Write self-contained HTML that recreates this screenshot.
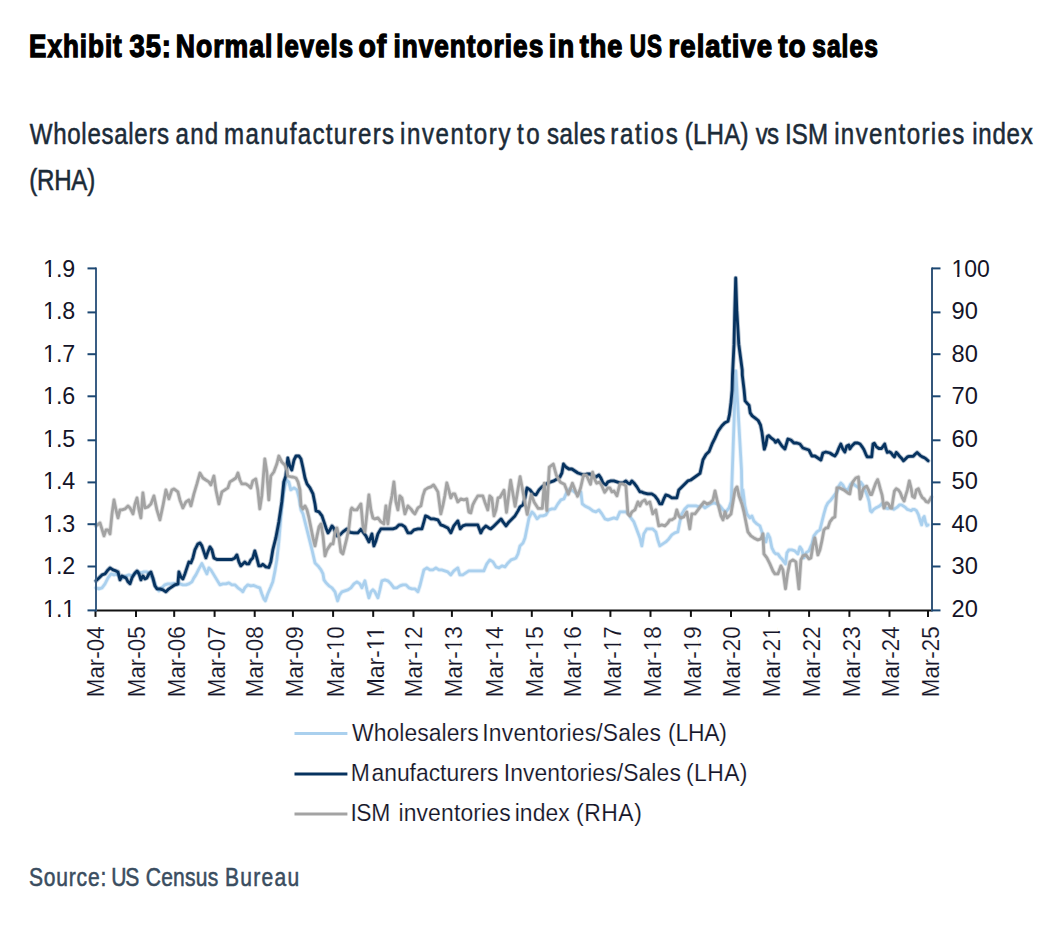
<!DOCTYPE html>
<html><head><meta charset="utf-8"><title>Exhibit 35</title>
<style>html,body{margin:0;padding:0;background:#fff;}svg{display:block;}</style>
</head><body>
<svg width="1054" height="926" viewBox="0 0 1054 926">
<rect x="0" y="0" width="1054" height="926" fill="#fff"/>
<g font-family='"Liberation Sans", sans-serif' font-weight="bold" font-size="30.9" fill="#000" stroke="#000" stroke-width="1.3" vector-effect="non-scaling-stroke">
<text transform="scale(0.8415,1.0000)" x="34.60" y="56.80" letter-spacing="1.188">Exhibit</text>
<text transform="scale(0.8859,1.0000)" x="146.09" y="56.80" letter-spacing="1.129">35:</text>
<text transform="scale(0.8602,1.0000)" x="204.45" y="56.80" letter-spacing="1.162">Normal</text>
<text transform="scale(0.8343,1.0000)" x="331.24" y="56.80" letter-spacing="1.199">levels</text>
<text transform="scale(0.9211,1.0000)" x="389.14" y="56.80" letter-spacing="1.086">of</text>
<text transform="scale(0.8483,1.0000)" x="463.79" y="56.80" letter-spacing="1.179">inventories</text>
<text transform="scale(0.8854,1.0000)" x="619.88" y="56.80" letter-spacing="1.129">in</text>
<text transform="scale(0.8795,1.0000)" x="659.12" y="56.80" letter-spacing="1.137">the</text>
<text transform="scale(0.7276,1.0000)" x="865.63" y="56.80" letter-spacing="1.374">US</text>
<text transform="scale(0.8914,1.0000)" x="750.06" y="56.80" letter-spacing="1.122">relative</text>
<text transform="scale(0.9067,1.0000)" x="858.27" y="56.80" letter-spacing="1.103">to</text>
<text transform="scale(0.7964,1.0000)" x="1019.90" y="56.80" letter-spacing="1.256">sales</text>
</g>
<g font-family='"Liberation Sans", sans-serif' font-weight="normal" font-size="29.4" fill="#1c2b38" stroke="#1c2b38" stroke-width="0.55" vector-effect="non-scaling-stroke">
<text transform="scale(0.8200,1.0000)" x="36.30" y="143.80" letter-spacing="0.831">Wholesalers</text>
<text transform="scale(0.8200,1.0000)" x="214.09" y="143.80" letter-spacing="1.530">and</text>
<text transform="scale(0.8200,1.0000)" x="273.26" y="143.80" letter-spacing="1.624">manufacturers</text>
<text transform="scale(0.8200,1.0000)" x="487.76" y="143.80" letter-spacing="1.953">inventory</text>
<text transform="scale(0.8200,1.0000)" x="630.50" y="143.80" letter-spacing="3.201">to</text>
<text transform="scale(0.8200,1.0000)" x="667.08" y="143.80" letter-spacing="0.646">sales</text>
<text transform="scale(0.8200,1.0000)" x="744.11" y="143.80" letter-spacing="2.118">ratios</text>
<text transform="scale(0.8200,1.0000)" x="835.10" y="143.80" letter-spacing="0.215">(LHA)</text>
<text transform="scale(0.8200,1.0000)" x="921.58" y="143.80" letter-spacing="-0.850">vs</text>
<text transform="scale(0.8200,1.0000)" x="957.26" y="143.80" letter-spacing="0.180">ISM</text>
<text transform="scale(0.8200,1.0000)" x="1017.27" y="143.80" letter-spacing="1.668">inventories</text>
<text transform="scale(0.8200,1.0000)" x="1185.69" y="143.80" letter-spacing="0.885">index</text>
</g>
<g font-family='"Liberation Sans", sans-serif' font-weight="normal" font-size="29.4" fill="#1c2b38" stroke="#1c2b38" stroke-width="0.55" vector-effect="non-scaling-stroke">
<text transform="scale(0.8200,1.0000)" x="35.59" y="189.60" letter-spacing="-0.276">(RHA)</text>
</g>
<g font-family='"Liberation Sans", sans-serif' font-weight="normal" font-size="26.3" fill="#3a4d60" stroke="#3a4d60" stroke-width="0.55" vector-effect="non-scaling-stroke">
<text transform="scale(0.8000,1.0000)" x="36.15" y="885.80" letter-spacing="1.024">Source:</text>
<text transform="scale(0.8000,1.0000)" x="139.19" y="885.80" letter-spacing="-1.608">US</text>
<text transform="scale(0.8000,1.0000)" x="182.13" y="885.80" letter-spacing="0.310">Census</text>
<text transform="scale(0.8000,1.0000)" x="281.19" y="885.80" letter-spacing="1.606">Bureau</text>
</g>
<g fill="none" stroke-linejoin="round" stroke-linecap="round">
<path d="M96.0 587.8 L99.0 588.8 L102.0 587.8 L105.0 583.8 L108.0 577.9 L111.0 573.9 L114.0 574.9 L117.0 573.9 L120.0 576.9 L123.0 577.9 L126.0 575.9 L129.0 574.9 L132.0 575.9 L135.0 573.9 L138.0 571.9 L140.9 572.9 L143.9 571.9 L146.9 571.9 L149.9 573.9 L152.9 578.9 L155.9 586.8 L158.9 590.8 L161.9 587.8 L164.9 584.8 L167.9 583.8 L170.9 583.8 L173.9 583.4 L176.9 584.8 L179.9 583.8 L182.9 584.8 L185.9 584.8 L188.9 583.8 L191.9 581.8 L193.9 577.9 L195.9 574.9 L198.9 568.9 L201.9 563.5 L204.9 569.9 L206.9 573.9 L208.9 567.9 L210.9 569.9 L213.9 574.9 L216.9 579.9 L219.9 584.8 L222.9 583.8 L225.9 583.8 L228.9 582.8 L231.9 584.8 L234.9 584.8 L237.9 587.8 L240.8 589.8 L242.8 591.8 L244.8 587.8 L247.8 584.8 L250.8 585.8 L253.8 585.4 L256.8 586.8 L259.8 587.8 L261.8 593.8 L263.8 598.8 L265.4 600.8 L267.8 593.8 L270.8 586.8 L272.8 581.8 L274.8 571.9 L276.8 559.9 L278.8 541.9 L280.8 517.9 L282.8 497.9 L284.8 485.9 L286.8 480.0 L288.8 481.9 L290.8 489.9 L294.0 487.9 L297.0 489.9 L299.0 497.9 L301.0 509.9 L303.0 513.9 L306.0 525.9 L309.0 537.9 L312.0 549.9 L315.0 562.9 L318.0 565.9 L321.0 569.9 L323.0 573.9 L324.0 579.9 L326.0 582.8 L329.0 585.8 L332.0 587.8 L335.0 591.8 L337.6 600.8 L339.6 594.8 L341.9 591.8 L344.9 590.8 L347.9 589.8 L350.9 587.8 L353.9 583.8 L356.9 581.8 L359.9 583.8 L361.9 587.8 L364.9 580.8 L366.9 589.8 L368.9 597.8 L370.9 591.8 L372.9 589.8 L374.9 591.8 L377.9 597.8 L379.9 589.8 L381.9 580.8 L384.9 579.9 L387.9 580.8 L390.9 583.8 L393.9 587.8 L396.9 587.8 L399.9 585.8 L402.9 584.8 L405.9 584.8 L408.9 587.8 L411.9 588.8 L414.9 588.8 L417.9 591.8 L419.9 585.8 L421.9 577.9 L423.9 569.9 L426.9 567.9 L429.9 569.9 L432.9 569.9 L435.9 567.9 L438.9 569.9 L441.8 569.9 L444.8 570.9 L447.8 571.9 L450.8 574.9 L453.8 570.9 L457.8 567.9 L459.8 574.9 L462.8 574.9 L465.8 572.9 L468.8 570.9 L472.8 570.9 L476.8 570.9 L480.8 570.9 L483.8 570.9 L486.8 563.9 L489.8 559.9 L493.0 561.9 L496.0 566.9 L499.0 567.9 L502.0 565.9 L505.0 566.9 L508.0 562.9 L511.0 559.9 L514.0 558.9 L516.0 557.9 L518.0 553.9 L520.0 545.9 L523.0 542.9 L525.0 537.9 L527.0 527.9 L529.0 517.9 L532.0 511.9 L534.0 513.9 L537.0 518.9 L540.0 515.9 L542.9 515.9 L545.9 514.9 L548.9 509.9 L551.9 508.9 L554.9 508.9 L557.9 503.9 L560.9 499.9 L563.9 498.9 L566.9 491.9 L569.9 488.9 L572.9 490.9 L575.9 492.9 L578.9 493.9 L580.9 491.9 L582.3 503.9 L584.9 505.9 L588.9 507.9 L592.9 510.9 L595.9 511.9 L598.9 509.9 L601.9 513.9 L604.9 518.9 L607.9 519.9 L610.9 518.9 L613.9 517.9 L616.9 518.9 L619.9 511.9 L622.9 511.9 L625.9 511.9 L628.9 513.9 L630.9 517.9 L633.9 521.9 L636.9 529.9 L639.9 537.9 L641.8 545.9 L643.8 533.9 L646.8 528.9 L649.8 528.9 L652.8 528.9 L655.8 531.9 L657.8 539.9 L659.8 545.9 L662.8 543.9 L665.8 541.9 L668.8 538.9 L671.8 534.9 L674.8 532.9 L677.8 531.9 L679.8 521.9 L681.8 513.9 L684.8 508.9 L687.8 505.9 L690.8 505.9 L694.0 505.9 L696.0 505.9 L699.0 506.9 L702.0 504.9 L705.0 507.9 L708.0 505.9 L711.0 503.9 L714.0 502.9 L717.0 503.9 L720.0 505.9 L723.0 509.9 L726.0 511.9 L729.0 507.9 L731.0 501.9 L731.3 500.0 L735.8 371.0 L741.5 470.0 L742.0 500.0 L742.9 489.9 L744.9 505.9 L746.9 513.9 L749.9 517.9 L751.9 515.9 L753.9 520.9 L756.9 523.9 L759.9 525.9 L761.9 531.9 L763.9 537.9 L765.9 541.9 L767.9 533.9 L769.9 537.9 L771.9 547.9 L773.9 551.9 L775.9 553.9 L777.9 553.9 L779.9 556.9 L781.9 558.9 L783.9 561.9 L785.5 563.9 L786.9 552.9 L788.9 549.9 L791.9 549.9 L794.9 550.9 L797.9 553.9 L799.9 546.9 L801.9 549.9 L803.9 557.9 L805.9 552.9 L808.9 550.9 L811.9 543.9 L813.9 535.9 L816.9 531.9 L819.9 529.9 L821.9 521.9 L823.9 513.9 L825.9 506.9 L827.9 502.9 L830.9 499.9 L833.9 495.9 L836.9 491.9 L838.9 485.9 L840.8 482.9 L842.8 484.9 L844.8 488.9 L847.8 489.9 L850.8 483.9 L852.8 482.9 L855.8 485.9 L858.8 487.9 L860.7 482.2 L862.7 484.8 L864.6 489.9 L865.9 491.9 L867.8 497.1 L869.1 501.6 L870.4 510.7 L871.7 512.0 L873.7 509.4 L875.6 508.1 L878.2 506.8 L880.2 505.5 L882.1 503.5 L884.0 506.8 L886.0 508.1 L887.9 508.7 L889.9 507.4 L891.8 508.1 L893.8 509.4 L895.7 508.1 L897.6 506.8 L899.6 504.8 L901.5 504.8 L903.5 506.1 L905.4 507.4 L907.4 509.4 L909.3 510.0 L911.2 510.7 L912.5 509.4 L914.5 509.4 L916.4 510.7 L918.4 514.6 L920.3 521.0 L921.6 524.9 L922.9 518.4 L924.2 516.5 L925.5 522.3 L926.8 525.6 L928.1 524.9" stroke="#aad0ee" stroke-width="4.6" stroke-opacity="0.3"/>
<path d="M96.0 587.8 L99.0 588.8 L102.0 587.8 L105.0 583.8 L108.0 577.9 L111.0 573.9 L114.0 574.9 L117.0 573.9 L120.0 576.9 L123.0 577.9 L126.0 575.9 L129.0 574.9 L132.0 575.9 L135.0 573.9 L138.0 571.9 L140.9 572.9 L143.9 571.9 L146.9 571.9 L149.9 573.9 L152.9 578.9 L155.9 586.8 L158.9 590.8 L161.9 587.8 L164.9 584.8 L167.9 583.8 L170.9 583.8 L173.9 583.4 L176.9 584.8 L179.9 583.8 L182.9 584.8 L185.9 584.8 L188.9 583.8 L191.9 581.8 L193.9 577.9 L195.9 574.9 L198.9 568.9 L201.9 563.5 L204.9 569.9 L206.9 573.9 L208.9 567.9 L210.9 569.9 L213.9 574.9 L216.9 579.9 L219.9 584.8 L222.9 583.8 L225.9 583.8 L228.9 582.8 L231.9 584.8 L234.9 584.8 L237.9 587.8 L240.8 589.8 L242.8 591.8 L244.8 587.8 L247.8 584.8 L250.8 585.8 L253.8 585.4 L256.8 586.8 L259.8 587.8 L261.8 593.8 L263.8 598.8 L265.4 600.8 L267.8 593.8 L270.8 586.8 L272.8 581.8 L274.8 571.9 L276.8 559.9 L278.8 541.9 L280.8 517.9 L282.8 497.9 L284.8 485.9 L286.8 480.0 L288.8 481.9 L290.8 489.9 L294.0 487.9 L297.0 489.9 L299.0 497.9 L301.0 509.9 L303.0 513.9 L306.0 525.9 L309.0 537.9 L312.0 549.9 L315.0 562.9 L318.0 565.9 L321.0 569.9 L323.0 573.9 L324.0 579.9 L326.0 582.8 L329.0 585.8 L332.0 587.8 L335.0 591.8 L337.6 600.8 L339.6 594.8 L341.9 591.8 L344.9 590.8 L347.9 589.8 L350.9 587.8 L353.9 583.8 L356.9 581.8 L359.9 583.8 L361.9 587.8 L364.9 580.8 L366.9 589.8 L368.9 597.8 L370.9 591.8 L372.9 589.8 L374.9 591.8 L377.9 597.8 L379.9 589.8 L381.9 580.8 L384.9 579.9 L387.9 580.8 L390.9 583.8 L393.9 587.8 L396.9 587.8 L399.9 585.8 L402.9 584.8 L405.9 584.8 L408.9 587.8 L411.9 588.8 L414.9 588.8 L417.9 591.8 L419.9 585.8 L421.9 577.9 L423.9 569.9 L426.9 567.9 L429.9 569.9 L432.9 569.9 L435.9 567.9 L438.9 569.9 L441.8 569.9 L444.8 570.9 L447.8 571.9 L450.8 574.9 L453.8 570.9 L457.8 567.9 L459.8 574.9 L462.8 574.9 L465.8 572.9 L468.8 570.9 L472.8 570.9 L476.8 570.9 L480.8 570.9 L483.8 570.9 L486.8 563.9 L489.8 559.9 L493.0 561.9 L496.0 566.9 L499.0 567.9 L502.0 565.9 L505.0 566.9 L508.0 562.9 L511.0 559.9 L514.0 558.9 L516.0 557.9 L518.0 553.9 L520.0 545.9 L523.0 542.9 L525.0 537.9 L527.0 527.9 L529.0 517.9 L532.0 511.9 L534.0 513.9 L537.0 518.9 L540.0 515.9 L542.9 515.9 L545.9 514.9 L548.9 509.9 L551.9 508.9 L554.9 508.9 L557.9 503.9 L560.9 499.9 L563.9 498.9 L566.9 491.9 L569.9 488.9 L572.9 490.9 L575.9 492.9 L578.9 493.9 L580.9 491.9 L582.3 503.9 L584.9 505.9 L588.9 507.9 L592.9 510.9 L595.9 511.9 L598.9 509.9 L601.9 513.9 L604.9 518.9 L607.9 519.9 L610.9 518.9 L613.9 517.9 L616.9 518.9 L619.9 511.9 L622.9 511.9 L625.9 511.9 L628.9 513.9 L630.9 517.9 L633.9 521.9 L636.9 529.9 L639.9 537.9 L641.8 545.9 L643.8 533.9 L646.8 528.9 L649.8 528.9 L652.8 528.9 L655.8 531.9 L657.8 539.9 L659.8 545.9 L662.8 543.9 L665.8 541.9 L668.8 538.9 L671.8 534.9 L674.8 532.9 L677.8 531.9 L679.8 521.9 L681.8 513.9 L684.8 508.9 L687.8 505.9 L690.8 505.9 L694.0 505.9 L696.0 505.9 L699.0 506.9 L702.0 504.9 L705.0 507.9 L708.0 505.9 L711.0 503.9 L714.0 502.9 L717.0 503.9 L720.0 505.9 L723.0 509.9 L726.0 511.9 L729.0 507.9 L731.0 501.9 L731.3 500.0 L735.8 371.0 L741.5 470.0 L742.0 500.0 L742.9 489.9 L744.9 505.9 L746.9 513.9 L749.9 517.9 L751.9 515.9 L753.9 520.9 L756.9 523.9 L759.9 525.9 L761.9 531.9 L763.9 537.9 L765.9 541.9 L767.9 533.9 L769.9 537.9 L771.9 547.9 L773.9 551.9 L775.9 553.9 L777.9 553.9 L779.9 556.9 L781.9 558.9 L783.9 561.9 L785.5 563.9 L786.9 552.9 L788.9 549.9 L791.9 549.9 L794.9 550.9 L797.9 553.9 L799.9 546.9 L801.9 549.9 L803.9 557.9 L805.9 552.9 L808.9 550.9 L811.9 543.9 L813.9 535.9 L816.9 531.9 L819.9 529.9 L821.9 521.9 L823.9 513.9 L825.9 506.9 L827.9 502.9 L830.9 499.9 L833.9 495.9 L836.9 491.9 L838.9 485.9 L840.8 482.9 L842.8 484.9 L844.8 488.9 L847.8 489.9 L850.8 483.9 L852.8 482.9 L855.8 485.9 L858.8 487.9 L860.7 482.2 L862.7 484.8 L864.6 489.9 L865.9 491.9 L867.8 497.1 L869.1 501.6 L870.4 510.7 L871.7 512.0 L873.7 509.4 L875.6 508.1 L878.2 506.8 L880.2 505.5 L882.1 503.5 L884.0 506.8 L886.0 508.1 L887.9 508.7 L889.9 507.4 L891.8 508.1 L893.8 509.4 L895.7 508.1 L897.6 506.8 L899.6 504.8 L901.5 504.8 L903.5 506.1 L905.4 507.4 L907.4 509.4 L909.3 510.0 L911.2 510.7 L912.5 509.4 L914.5 509.4 L916.4 510.7 L918.4 514.6 L920.3 521.0 L921.6 524.9 L922.9 518.4 L924.2 516.5 L925.5 522.3 L926.8 525.6 L928.1 524.9" stroke="#aad0ee" stroke-width="2.8"/>
<path d="M96.0 580.8 L99.0 577.9 L102.0 574.9 L105.0 573.9 L108.0 569.9 L110.0 567.9 L113.0 569.9 L116.0 570.9 L118.0 571.9 L120.0 579.9 L122.0 575.9 L124.0 576.9 L126.0 577.9 L128.0 581.8 L130.0 583.8 L132.0 577.9 L135.0 572.9 L137.0 570.9 L139.0 573.9 L140.9 579.9 L142.9 575.9 L144.9 578.9 L146.9 577.9 L148.9 573.9 L150.9 571.9 L152.9 577.9 L154.9 585.8 L156.9 588.8 L159.9 588.8 L162.9 589.8 L165.9 591.8 L168.9 588.8 L171.9 586.8 L174.9 584.8 L177.9 583.8 L178.9 571.9 L180.9 576.9 L182.9 578.9 L184.9 573.9 L186.9 567.9 L188.9 561.9 L190.9 562.9 L192.9 557.9 L194.9 549.9 L197.9 543.9 L199.9 542.9 L201.9 545.9 L203.9 551.9 L205.9 557.9 L207.9 551.9 L209.9 546.9 L211.9 549.9 L213.9 557.9 L216.9 559.5 L219.9 559.5 L223.9 559.5 L227.9 559.5 L231.9 559.5 L234.9 557.9 L236.9 554.9 L238.9 561.9 L240.8 565.9 L242.8 563.9 L244.8 561.9 L246.8 563.9 L248.8 563.9 L250.8 559.9 L252.8 557.9 L254.8 550.9 L256.8 557.9 L258.8 565.9 L260.8 565.9 L262.8 564.3 L265.8 566.9 L268.8 567.5 L270.8 561.9 L272.8 549.9 L275.8 537.9 L278.8 521.9 L281.8 501.9 L283.8 481.9 L285.8 476.0 L287.8 458.0 L289.8 466.0 L291.8 470.0 L294.0 460.0 L296.0 456.0 L299.0 456.0 L301.0 459.0 L303.0 468.0 L305.0 478.0 L307.0 483.9 L310.0 487.9 L313.0 493.9 L315.0 503.9 L316.0 510.9 L319.0 511.9 L322.0 515.9 L324.0 521.9 L326.0 527.9 L328.0 532.9 L330.0 529.9 L332.0 525.9 L333.6 527.9 L337.0 535.9 L340.0 534.9 L342.9 531.9 L346.9 528.9 L349.9 532.3 L353.9 532.9 L357.9 532.9 L360.9 529.3 L362.9 531.9 L365.9 535.9 L368.9 541.9 L371.9 533.9 L373.9 545.9 L375.9 540.9 L377.9 533.9 L380.9 528.9 L384.9 528.9 L388.9 528.9 L392.9 528.9 L395.9 527.9 L398.9 524.9 L401.9 524.9 L404.9 526.9 L407.9 532.9 L410.9 532.9 L413.9 529.9 L417.9 528.9 L421.9 528.9 L423.9 521.9 L425.5 515.9 L427.9 516.9 L430.9 518.9 L433.9 518.9 L437.9 519.9 L440.8 524.9 L443.8 525.9 L447.8 527.9 L450.8 532.9 L453.8 525.9 L457.8 520.9 L460.2 528.9 L462.8 525.9 L465.8 524.9 L469.8 524.9 L473.8 524.9 L477.8 524.9 L480.8 532.9 L482.8 528.9 L485.8 525.9 L488.8 527.9 L490.8 528.9 L493.0 526.9 L496.0 523.9 L499.0 520.9 L501.0 518.9 L503.0 521.9 L506.0 525.9 L509.0 521.9 L512.0 518.9 L515.0 515.9 L518.0 510.9 L520.0 506.9 L523.0 504.9 L525.0 497.9 L527.0 487.9 L530.0 489.9 L533.0 493.9 L536.0 494.9 L539.0 489.9 L541.9 486.9 L544.9 484.9 L547.9 482.9 L550.9 481.9 L553.9 480.9 L556.9 479.0 L559.9 477.0 L561.9 473.0 L563.5 464.0 L565.9 467.0 L568.9 469.0 L571.9 469.0 L574.9 471.0 L577.9 473.0 L580.9 474.0 L583.9 475.0 L586.9 474.0 L589.9 474.0 L592.9 476.0 L595.9 477.0 L598.9 475.0 L600.9 478.0 L602.9 482.9 L605.9 484.9 L607.9 481.9 L610.9 480.9 L613.9 480.9 L616.9 481.9 L619.9 482.9 L622.9 482.9 L625.9 480.9 L627.9 482.9 L629.9 483.9 L631.9 480.9 L633.9 482.9 L636.9 486.9 L639.9 491.9 L641.8 491.9 L643.8 492.9 L647.8 493.9 L651.8 493.9 L654.8 495.9 L657.8 499.9 L659.8 503.9 L661.8 503.9 L663.8 498.9 L665.8 494.9 L668.8 495.9 L671.8 497.9 L674.8 497.9 L676.8 497.9 L678.8 489.9 L681.8 486.9 L684.8 483.9 L687.8 480.9 L690.8 480.0 L700.0 473.4 L703.0 459.8 L706.0 454.5 L709.1 451.5 L712.1 443.9 L715.1 437.9 L718.1 431.1 L721.9 425.8 L724.9 422.7 L728.0 421.2 L729.5 414.4 L731.0 402.3 L732.1 390.2 L732.5 375.1 L734.0 344.4 L734.8 310.4 L735.7 278.0 L736.8 310.4 L738.8 344.4 L742.2 370.0 L742.3 375.1 L744.1 390.2 L745.1 400.8 L747.6 403.8 L749.1 405.4 L750.2 412.9 L752.2 415.9 L755.2 418.2 L758.2 420.5 L760.5 425.0 L762.0 432.6 L763.2 441.6 L764.3 449.2 L765.8 444.7 L767.3 436.4 L768.8 435.6 L771.1 437.9 L774.1 440.1 L775.6 442.4 L777.9 440.1 L781.9 446.0 L784.9 449.0 L787.9 439.0 L790.9 440.0 L793.9 443.0 L796.9 443.0 L799.9 444.0 L802.9 448.0 L805.9 449.0 L808.9 450.0 L811.9 456.0 L814.9 456.0 L817.9 458.0 L820.9 460.0 L822.9 453.0 L825.9 452.0 L829.9 453.0 L832.9 455.0 L834.9 456.0 L836.9 453.0 L838.9 448.0 L840.8 444.0 L842.8 449.0 L844.8 452.0 L846.8 446.0 L848.8 445.0 L849.8 449.0 L851.8 446.0 L854.8 443.0 L857.8 443.0 L860.1 444.0 L862.0 446.6 L864.0 449.8 L865.9 454.3 L867.2 456.9 L869.1 456.9 L871.7 456.9 L873.0 444.0 L874.3 443.3 L876.3 446.6 L878.9 448.5 L881.5 448.5 L883.4 445.9 L884.7 444.0 L886.0 449.1 L887.3 452.4 L889.2 451.7 L891.2 453.0 L893.1 455.6 L894.4 456.9 L896.3 452.4 L897.6 453.7 L899.6 456.3 L901.5 458.2 L903.5 460.8 L905.4 458.9 L907.4 456.9 L909.3 456.3 L911.2 456.3 L913.2 456.3 L915.1 454.3 L917.1 452.4 L918.4 453.7 L920.3 455.6 L922.3 456.9 L924.2 457.6 L926.1 458.9 L928.1 460.8" stroke="#06325f" stroke-width="4.6" stroke-opacity="0.3"/>
<path d="M96.0 580.8 L99.0 577.9 L102.0 574.9 L105.0 573.9 L108.0 569.9 L110.0 567.9 L113.0 569.9 L116.0 570.9 L118.0 571.9 L120.0 579.9 L122.0 575.9 L124.0 576.9 L126.0 577.9 L128.0 581.8 L130.0 583.8 L132.0 577.9 L135.0 572.9 L137.0 570.9 L139.0 573.9 L140.9 579.9 L142.9 575.9 L144.9 578.9 L146.9 577.9 L148.9 573.9 L150.9 571.9 L152.9 577.9 L154.9 585.8 L156.9 588.8 L159.9 588.8 L162.9 589.8 L165.9 591.8 L168.9 588.8 L171.9 586.8 L174.9 584.8 L177.9 583.8 L178.9 571.9 L180.9 576.9 L182.9 578.9 L184.9 573.9 L186.9 567.9 L188.9 561.9 L190.9 562.9 L192.9 557.9 L194.9 549.9 L197.9 543.9 L199.9 542.9 L201.9 545.9 L203.9 551.9 L205.9 557.9 L207.9 551.9 L209.9 546.9 L211.9 549.9 L213.9 557.9 L216.9 559.5 L219.9 559.5 L223.9 559.5 L227.9 559.5 L231.9 559.5 L234.9 557.9 L236.9 554.9 L238.9 561.9 L240.8 565.9 L242.8 563.9 L244.8 561.9 L246.8 563.9 L248.8 563.9 L250.8 559.9 L252.8 557.9 L254.8 550.9 L256.8 557.9 L258.8 565.9 L260.8 565.9 L262.8 564.3 L265.8 566.9 L268.8 567.5 L270.8 561.9 L272.8 549.9 L275.8 537.9 L278.8 521.9 L281.8 501.9 L283.8 481.9 L285.8 476.0 L287.8 458.0 L289.8 466.0 L291.8 470.0 L294.0 460.0 L296.0 456.0 L299.0 456.0 L301.0 459.0 L303.0 468.0 L305.0 478.0 L307.0 483.9 L310.0 487.9 L313.0 493.9 L315.0 503.9 L316.0 510.9 L319.0 511.9 L322.0 515.9 L324.0 521.9 L326.0 527.9 L328.0 532.9 L330.0 529.9 L332.0 525.9 L333.6 527.9 L337.0 535.9 L340.0 534.9 L342.9 531.9 L346.9 528.9 L349.9 532.3 L353.9 532.9 L357.9 532.9 L360.9 529.3 L362.9 531.9 L365.9 535.9 L368.9 541.9 L371.9 533.9 L373.9 545.9 L375.9 540.9 L377.9 533.9 L380.9 528.9 L384.9 528.9 L388.9 528.9 L392.9 528.9 L395.9 527.9 L398.9 524.9 L401.9 524.9 L404.9 526.9 L407.9 532.9 L410.9 532.9 L413.9 529.9 L417.9 528.9 L421.9 528.9 L423.9 521.9 L425.5 515.9 L427.9 516.9 L430.9 518.9 L433.9 518.9 L437.9 519.9 L440.8 524.9 L443.8 525.9 L447.8 527.9 L450.8 532.9 L453.8 525.9 L457.8 520.9 L460.2 528.9 L462.8 525.9 L465.8 524.9 L469.8 524.9 L473.8 524.9 L477.8 524.9 L480.8 532.9 L482.8 528.9 L485.8 525.9 L488.8 527.9 L490.8 528.9 L493.0 526.9 L496.0 523.9 L499.0 520.9 L501.0 518.9 L503.0 521.9 L506.0 525.9 L509.0 521.9 L512.0 518.9 L515.0 515.9 L518.0 510.9 L520.0 506.9 L523.0 504.9 L525.0 497.9 L527.0 487.9 L530.0 489.9 L533.0 493.9 L536.0 494.9 L539.0 489.9 L541.9 486.9 L544.9 484.9 L547.9 482.9 L550.9 481.9 L553.9 480.9 L556.9 479.0 L559.9 477.0 L561.9 473.0 L563.5 464.0 L565.9 467.0 L568.9 469.0 L571.9 469.0 L574.9 471.0 L577.9 473.0 L580.9 474.0 L583.9 475.0 L586.9 474.0 L589.9 474.0 L592.9 476.0 L595.9 477.0 L598.9 475.0 L600.9 478.0 L602.9 482.9 L605.9 484.9 L607.9 481.9 L610.9 480.9 L613.9 480.9 L616.9 481.9 L619.9 482.9 L622.9 482.9 L625.9 480.9 L627.9 482.9 L629.9 483.9 L631.9 480.9 L633.9 482.9 L636.9 486.9 L639.9 491.9 L641.8 491.9 L643.8 492.9 L647.8 493.9 L651.8 493.9 L654.8 495.9 L657.8 499.9 L659.8 503.9 L661.8 503.9 L663.8 498.9 L665.8 494.9 L668.8 495.9 L671.8 497.9 L674.8 497.9 L676.8 497.9 L678.8 489.9 L681.8 486.9 L684.8 483.9 L687.8 480.9 L690.8 480.0 L700.0 473.4 L703.0 459.8 L706.0 454.5 L709.1 451.5 L712.1 443.9 L715.1 437.9 L718.1 431.1 L721.9 425.8 L724.9 422.7 L728.0 421.2 L729.5 414.4 L731.0 402.3 L732.1 390.2 L732.5 375.1 L734.0 344.4 L734.8 310.4 L735.7 278.0 L736.8 310.4 L738.8 344.4 L742.2 370.0 L742.3 375.1 L744.1 390.2 L745.1 400.8 L747.6 403.8 L749.1 405.4 L750.2 412.9 L752.2 415.9 L755.2 418.2 L758.2 420.5 L760.5 425.0 L762.0 432.6 L763.2 441.6 L764.3 449.2 L765.8 444.7 L767.3 436.4 L768.8 435.6 L771.1 437.9 L774.1 440.1 L775.6 442.4 L777.9 440.1 L781.9 446.0 L784.9 449.0 L787.9 439.0 L790.9 440.0 L793.9 443.0 L796.9 443.0 L799.9 444.0 L802.9 448.0 L805.9 449.0 L808.9 450.0 L811.9 456.0 L814.9 456.0 L817.9 458.0 L820.9 460.0 L822.9 453.0 L825.9 452.0 L829.9 453.0 L832.9 455.0 L834.9 456.0 L836.9 453.0 L838.9 448.0 L840.8 444.0 L842.8 449.0 L844.8 452.0 L846.8 446.0 L848.8 445.0 L849.8 449.0 L851.8 446.0 L854.8 443.0 L857.8 443.0 L860.1 444.0 L862.0 446.6 L864.0 449.8 L865.9 454.3 L867.2 456.9 L869.1 456.9 L871.7 456.9 L873.0 444.0 L874.3 443.3 L876.3 446.6 L878.9 448.5 L881.5 448.5 L883.4 445.9 L884.7 444.0 L886.0 449.1 L887.3 452.4 L889.2 451.7 L891.2 453.0 L893.1 455.6 L894.4 456.9 L896.3 452.4 L897.6 453.7 L899.6 456.3 L901.5 458.2 L903.5 460.8 L905.4 458.9 L907.4 456.9 L909.3 456.3 L911.2 456.3 L913.2 456.3 L915.1 454.3 L917.1 452.4 L918.4 453.7 L920.3 455.6 L922.3 456.9 L924.2 457.6 L926.1 458.9 L928.1 460.8" stroke="#06325f" stroke-width="2.8"/>
<path d="M96.0 525.9 L100.0 522.9 L104.0 535.9 L106.0 529.9 L108.0 529.9 L110.0 533.9 L112.0 513.9 L114.0 499.9 L116.0 509.9 L118.0 517.9 L120.0 509.9 L122.0 509.9 L125.0 508.9 L128.0 505.9 L130.0 507.9 L133.0 513.9 L135.0 503.9 L137.0 497.9 L139.0 509.9 L140.9 517.9 L142.9 492.9 L144.9 507.9 L147.9 506.9 L150.9 503.9 L153.9 495.9 L156.9 509.9 L159.9 519.9 L162.9 505.9 L165.9 489.9 L168.9 498.9 L171.9 489.9 L173.9 488.9 L177.9 491.9 L179.9 499.9 L182.9 507.9 L185.9 501.9 L188.9 499.9 L190.9 505.9 L193.9 493.9 L196.9 483.9 L199.9 473.0 L202.9 478.0 L205.9 480.0 L208.9 481.9 L210.9 484.9 L213.9 476.0 L215.9 489.9 L218.9 503.9 L221.9 491.9 L224.9 489.9 L227.9 487.9 L229.9 481.9 L232.9 480.0 L235.9 478.0 L237.9 473.0 L239.9 480.0 L241.8 483.9 L245.8 483.9 L248.8 485.9 L250.8 487.9 L252.8 480.9 L255.8 479.0 L257.8 489.9 L259.8 508.9 L261.8 495.9 L264.8 459.0 L266.8 472.0 L268.8 499.9 L270.8 476.0 L273.8 472.0 L276.8 464.0 L278.8 456.0 L281.8 462.0 L284.8 465.0 L286.8 470.0 L287.8 476.0 L291.8 477.0 L293.0 477.0 L296.0 478.0 L298.0 481.9 L300.0 489.9 L301.0 505.9 L303.0 508.9 L305.0 505.9 L307.0 509.9 L309.0 517.9 L311.0 527.9 L313.0 537.9 L315.0 545.9 L317.0 535.9 L319.0 526.9 L321.0 523.9 L323.0 535.9 L325.0 555.9 L327.0 549.9 L329.0 546.9 L331.0 543.9 L333.0 543.9 L335.0 531.9 L337.0 527.9 L339.0 537.9 L340.9 551.9 L342.9 553.9 L344.9 545.9 L346.9 537.9 L348.9 527.9 L350.9 509.9 L351.9 507.9 L353.9 509.9 L356.9 509.9 L358.9 506.9 L360.9 503.9 L362.9 525.9 L364.9 531.9 L366.9 513.9 L368.9 494.9 L370.9 509.9 L372.9 517.9 L374.9 518.9 L377.9 517.9 L380.9 521.9 L383.9 523.9 L385.9 505.9 L387.9 523.9 L389.9 505.9 L391.9 495.9 L393.9 481.9 L395.9 501.9 L397.9 509.9 L399.9 495.9 L401.9 497.9 L404.9 513.9 L407.9 505.9 L410.9 508.9 L412.9 511.9 L414.9 513.9 L417.9 507.9 L420.9 505.9 L422.9 495.9 L424.9 489.9 L427.9 487.9 L430.9 486.9 L433.5 484.9 L435.5 487.9 L437.9 491.9 L440.8 513.9 L442.8 505.9 L444.8 495.9 L446.8 482.9 L448.8 489.9 L450.8 497.9 L452.8 493.9 L454.8 493.9 L457.8 501.9 L460.8 498.9 L463.8 499.9 L466.8 498.9 L468.8 511.9 L470.8 512.9 L472.8 504.9 L474.8 500.9 L477.8 495.9 L480.8 495.9 L482.8 495.9 L484.8 501.9 L487.8 509.9 L489.8 495.9 L491.8 497.9 L494.0 515.9 L496.0 509.9 L498.0 497.9 L500.0 497.3 L504.0 490.2 L506.5 512.4 L510.6 480.2 L515.1 506.3 L520.1 476.7 L527.2 514.4 L531.2 494.3 L534.2 502.3 L538.2 508.4 L542.3 508.4 L544.3 483.2 L546.8 510.4 L549.3 467.1 L553.3 464.1 L556.3 475.2 L560.4 482.2 L564.4 484.2 L568.4 494.3 L572.4 483.2 L577.5 496.3 L580.5 488.2 L583.5 475.2 L586.5 475.2 L590.5 484.2 L592.6 472.1 L594.6 479.2 L596.6 483.2 L599.6 482.2 L601.6 485.2 L604.6 492.3 L607.9 487.9 L609.9 487.9 L611.9 491.9 L613.9 490.9 L616.9 495.9 L619.9 483.9 L622.9 483.9 L625.9 485.9 L627.9 513.9 L629.9 515.9 L631.9 511.9 L634.9 509.9 L637.9 501.9 L639.9 505.9 L641.8 501.9 L644.8 499.9 L646.8 503.9 L649.8 501.9 L652.8 513.9 L655.8 509.9 L658.8 525.9 L661.8 524.9 L664.8 525.9 L667.8 522.9 L669.8 519.9 L671.8 519.9 L674.8 517.9 L676.8 509.9 L678.8 515.9 L680.8 517.9 L683.8 516.9 L686.8 511.9 L689.8 528.9 L691.8 513.9 L695.0 513.9 L698.0 509.9 L701.0 505.9 L704.0 501.9 L707.0 503.9 L710.0 502.9 L713.0 499.9 L715.0 490.9 L717.0 499.9 L719.0 507.9 L721.0 515.9 L723.0 519.9 L725.0 511.9 L727.0 517.9 L729.0 515.9 L731.0 513.9 L733.0 501.9 L735.0 489.9 L737.0 486.9 L739.0 495.9 L741.9 503.9 L743.9 511.9 L745.9 521.9 L747.9 531.9 L750.9 535.9 L753.9 537.9 L757.9 539.9 L760.9 538.9 L762.9 533.9 L763.9 553.9 L766.9 557.9 L769.9 563.9 L772.9 570.9 L774.9 573.9 L777.9 573.9 L780.9 565.9 L782.9 569.9 L785.5 588.8 L787.5 573.9 L789.9 561.9 L792.9 559.9 L795.9 561.9 L798.9 588.8 L800.9 559.9 L802.9 555.9 L805.9 554.9 L808.9 558.9 L810.9 557.9 L812.9 545.9 L814.9 537.9 L817.9 554.9 L819.9 549.9 L821.9 540.9 L823.9 529.9 L825.9 527.9 L827.9 527.9 L829.9 521.9 L832.9 517.9 L834.9 516.9 L836.9 487.9 L839.9 487.9 L843.8 489.9 L847.8 492.9 L849.8 493.9 L850.8 487.9 L852.8 481.9 L855.8 478.0 L858.4 477.0 L860.1 499.0 L861.4 496.4 L862.7 489.9 L864.6 487.4 L866.6 486.1 L868.5 489.9 L870.4 494.5 L871.7 494.5 L873.7 488.7 L875.6 483.5 L877.6 479.6 L878.9 483.5 L880.2 488.7 L882.1 495.1 L884.0 508.1 L886.0 502.9 L887.3 502.9 L888.6 504.2 L890.5 508.1 L891.8 508.1 L893.1 499.0 L894.4 491.2 L896.3 488.7 L898.3 489.9 L900.2 492.5 L902.2 497.7 L904.1 501.0 L905.4 496.4 L907.4 489.9 L909.3 480.9 L911.2 488.7 L912.5 496.4 L914.5 497.7 L916.4 489.9 L918.4 488.7 L920.3 493.8 L922.3 497.7 L924.2 499.0 L926.1 501.6 L928.1 502.3 L930.0 499.7 L931.3 497.1" stroke="#a3a3a3" stroke-width="4.6" stroke-opacity="0.3"/>
<path d="M96.0 525.9 L100.0 522.9 L104.0 535.9 L106.0 529.9 L108.0 529.9 L110.0 533.9 L112.0 513.9 L114.0 499.9 L116.0 509.9 L118.0 517.9 L120.0 509.9 L122.0 509.9 L125.0 508.9 L128.0 505.9 L130.0 507.9 L133.0 513.9 L135.0 503.9 L137.0 497.9 L139.0 509.9 L140.9 517.9 L142.9 492.9 L144.9 507.9 L147.9 506.9 L150.9 503.9 L153.9 495.9 L156.9 509.9 L159.9 519.9 L162.9 505.9 L165.9 489.9 L168.9 498.9 L171.9 489.9 L173.9 488.9 L177.9 491.9 L179.9 499.9 L182.9 507.9 L185.9 501.9 L188.9 499.9 L190.9 505.9 L193.9 493.9 L196.9 483.9 L199.9 473.0 L202.9 478.0 L205.9 480.0 L208.9 481.9 L210.9 484.9 L213.9 476.0 L215.9 489.9 L218.9 503.9 L221.9 491.9 L224.9 489.9 L227.9 487.9 L229.9 481.9 L232.9 480.0 L235.9 478.0 L237.9 473.0 L239.9 480.0 L241.8 483.9 L245.8 483.9 L248.8 485.9 L250.8 487.9 L252.8 480.9 L255.8 479.0 L257.8 489.9 L259.8 508.9 L261.8 495.9 L264.8 459.0 L266.8 472.0 L268.8 499.9 L270.8 476.0 L273.8 472.0 L276.8 464.0 L278.8 456.0 L281.8 462.0 L284.8 465.0 L286.8 470.0 L287.8 476.0 L291.8 477.0 L293.0 477.0 L296.0 478.0 L298.0 481.9 L300.0 489.9 L301.0 505.9 L303.0 508.9 L305.0 505.9 L307.0 509.9 L309.0 517.9 L311.0 527.9 L313.0 537.9 L315.0 545.9 L317.0 535.9 L319.0 526.9 L321.0 523.9 L323.0 535.9 L325.0 555.9 L327.0 549.9 L329.0 546.9 L331.0 543.9 L333.0 543.9 L335.0 531.9 L337.0 527.9 L339.0 537.9 L340.9 551.9 L342.9 553.9 L344.9 545.9 L346.9 537.9 L348.9 527.9 L350.9 509.9 L351.9 507.9 L353.9 509.9 L356.9 509.9 L358.9 506.9 L360.9 503.9 L362.9 525.9 L364.9 531.9 L366.9 513.9 L368.9 494.9 L370.9 509.9 L372.9 517.9 L374.9 518.9 L377.9 517.9 L380.9 521.9 L383.9 523.9 L385.9 505.9 L387.9 523.9 L389.9 505.9 L391.9 495.9 L393.9 481.9 L395.9 501.9 L397.9 509.9 L399.9 495.9 L401.9 497.9 L404.9 513.9 L407.9 505.9 L410.9 508.9 L412.9 511.9 L414.9 513.9 L417.9 507.9 L420.9 505.9 L422.9 495.9 L424.9 489.9 L427.9 487.9 L430.9 486.9 L433.5 484.9 L435.5 487.9 L437.9 491.9 L440.8 513.9 L442.8 505.9 L444.8 495.9 L446.8 482.9 L448.8 489.9 L450.8 497.9 L452.8 493.9 L454.8 493.9 L457.8 501.9 L460.8 498.9 L463.8 499.9 L466.8 498.9 L468.8 511.9 L470.8 512.9 L472.8 504.9 L474.8 500.9 L477.8 495.9 L480.8 495.9 L482.8 495.9 L484.8 501.9 L487.8 509.9 L489.8 495.9 L491.8 497.9 L494.0 515.9 L496.0 509.9 L498.0 497.9 L500.0 497.3 L504.0 490.2 L506.5 512.4 L510.6 480.2 L515.1 506.3 L520.1 476.7 L527.2 514.4 L531.2 494.3 L534.2 502.3 L538.2 508.4 L542.3 508.4 L544.3 483.2 L546.8 510.4 L549.3 467.1 L553.3 464.1 L556.3 475.2 L560.4 482.2 L564.4 484.2 L568.4 494.3 L572.4 483.2 L577.5 496.3 L580.5 488.2 L583.5 475.2 L586.5 475.2 L590.5 484.2 L592.6 472.1 L594.6 479.2 L596.6 483.2 L599.6 482.2 L601.6 485.2 L604.6 492.3 L607.9 487.9 L609.9 487.9 L611.9 491.9 L613.9 490.9 L616.9 495.9 L619.9 483.9 L622.9 483.9 L625.9 485.9 L627.9 513.9 L629.9 515.9 L631.9 511.9 L634.9 509.9 L637.9 501.9 L639.9 505.9 L641.8 501.9 L644.8 499.9 L646.8 503.9 L649.8 501.9 L652.8 513.9 L655.8 509.9 L658.8 525.9 L661.8 524.9 L664.8 525.9 L667.8 522.9 L669.8 519.9 L671.8 519.9 L674.8 517.9 L676.8 509.9 L678.8 515.9 L680.8 517.9 L683.8 516.9 L686.8 511.9 L689.8 528.9 L691.8 513.9 L695.0 513.9 L698.0 509.9 L701.0 505.9 L704.0 501.9 L707.0 503.9 L710.0 502.9 L713.0 499.9 L715.0 490.9 L717.0 499.9 L719.0 507.9 L721.0 515.9 L723.0 519.9 L725.0 511.9 L727.0 517.9 L729.0 515.9 L731.0 513.9 L733.0 501.9 L735.0 489.9 L737.0 486.9 L739.0 495.9 L741.9 503.9 L743.9 511.9 L745.9 521.9 L747.9 531.9 L750.9 535.9 L753.9 537.9 L757.9 539.9 L760.9 538.9 L762.9 533.9 L763.9 553.9 L766.9 557.9 L769.9 563.9 L772.9 570.9 L774.9 573.9 L777.9 573.9 L780.9 565.9 L782.9 569.9 L785.5 588.8 L787.5 573.9 L789.9 561.9 L792.9 559.9 L795.9 561.9 L798.9 588.8 L800.9 559.9 L802.9 555.9 L805.9 554.9 L808.9 558.9 L810.9 557.9 L812.9 545.9 L814.9 537.9 L817.9 554.9 L819.9 549.9 L821.9 540.9 L823.9 529.9 L825.9 527.9 L827.9 527.9 L829.9 521.9 L832.9 517.9 L834.9 516.9 L836.9 487.9 L839.9 487.9 L843.8 489.9 L847.8 492.9 L849.8 493.9 L850.8 487.9 L852.8 481.9 L855.8 478.0 L858.4 477.0 L860.1 499.0 L861.4 496.4 L862.7 489.9 L864.6 487.4 L866.6 486.1 L868.5 489.9 L870.4 494.5 L871.7 494.5 L873.7 488.7 L875.6 483.5 L877.6 479.6 L878.9 483.5 L880.2 488.7 L882.1 495.1 L884.0 508.1 L886.0 502.9 L887.3 502.9 L888.6 504.2 L890.5 508.1 L891.8 508.1 L893.1 499.0 L894.4 491.2 L896.3 488.7 L898.3 489.9 L900.2 492.5 L902.2 497.7 L904.1 501.0 L905.4 496.4 L907.4 489.9 L909.3 480.9 L911.2 488.7 L912.5 496.4 L914.5 497.7 L916.4 489.9 L918.4 488.7 L920.3 493.8 L922.3 497.7 L924.2 499.0 L926.1 501.6 L928.1 502.3 L930.0 499.7 L931.3 497.1" stroke="#a3a3a3" stroke-width="2.8"/>
</g>
<g stroke-width="2" fill="none">
<line x1="96.0" y1="610.4" x2="932.0" y2="610.4" stroke="#111"/>
<line x1="95.5" y1="610.4" x2="95.5" y2="616.9" stroke="#111"/>
<line x1="136.0" y1="610.4" x2="136.0" y2="616.9" stroke="#111"/>
<line x1="174.2" y1="610.4" x2="174.2" y2="616.9" stroke="#111"/>
<line x1="214.6" y1="610.4" x2="214.6" y2="616.9" stroke="#111"/>
<line x1="254.7" y1="610.4" x2="254.7" y2="616.9" stroke="#111"/>
<line x1="292.9" y1="610.4" x2="292.9" y2="616.9" stroke="#111"/>
<line x1="333.1" y1="610.4" x2="333.1" y2="616.9" stroke="#111"/>
<line x1="373.2" y1="610.4" x2="373.2" y2="616.9" stroke="#111"/>
<line x1="413.5" y1="610.4" x2="413.5" y2="616.9" stroke="#111"/>
<line x1="451.9" y1="610.4" x2="451.9" y2="616.9" stroke="#111"/>
<line x1="491.9" y1="610.4" x2="491.9" y2="616.9" stroke="#111"/>
<line x1="531.8" y1="610.4" x2="531.8" y2="616.9" stroke="#111"/>
<line x1="572.1" y1="610.4" x2="572.1" y2="616.9" stroke="#111"/>
<line x1="610.4" y1="610.4" x2="610.4" y2="616.9" stroke="#111"/>
<line x1="650.5" y1="610.4" x2="650.5" y2="616.9" stroke="#111"/>
<line x1="690.9" y1="610.4" x2="690.9" y2="616.9" stroke="#111"/>
<line x1="731.0" y1="610.4" x2="731.0" y2="616.9" stroke="#111"/>
<line x1="769.2" y1="610.4" x2="769.2" y2="616.9" stroke="#111"/>
<line x1="809.1" y1="610.4" x2="809.1" y2="616.9" stroke="#111"/>
<line x1="849.4" y1="610.4" x2="849.4" y2="616.9" stroke="#111"/>
<line x1="889.5" y1="610.4" x2="889.5" y2="616.9" stroke="#111"/>
<line x1="928.0" y1="610.4" x2="928.0" y2="616.9" stroke="#111"/>
<line x1="96.0" y1="267.4" x2="96.0" y2="611.4" stroke="#3a5e84"/>
<line x1="932.0" y1="267.4" x2="932.0" y2="611.4" stroke="#34567a"/>
<line x1="87.5" y1="268.4" x2="96.0" y2="268.4" stroke="#1c4772"/>
<line x1="932.0" y1="268.4" x2="940.5" y2="268.4" stroke="#1c4772"/>
<line x1="87.5" y1="312.4" x2="96.0" y2="312.4" stroke="#1c4772"/>
<line x1="932.0" y1="312.4" x2="940.5" y2="312.4" stroke="#1c4772"/>
<line x1="87.5" y1="354.2" x2="96.0" y2="354.2" stroke="#1c4772"/>
<line x1="932.0" y1="354.2" x2="940.5" y2="354.2" stroke="#1c4772"/>
<line x1="87.5" y1="396.3" x2="96.0" y2="396.3" stroke="#1c4772"/>
<line x1="932.0" y1="396.3" x2="940.5" y2="396.3" stroke="#1c4772"/>
<line x1="87.5" y1="440.3" x2="96.0" y2="440.3" stroke="#1c4772"/>
<line x1="932.0" y1="440.3" x2="940.5" y2="440.3" stroke="#1c4772"/>
<line x1="87.5" y1="482.4" x2="96.0" y2="482.4" stroke="#1c4772"/>
<line x1="932.0" y1="482.4" x2="940.5" y2="482.4" stroke="#1c4772"/>
<line x1="87.5" y1="524.2" x2="96.0" y2="524.2" stroke="#1c4772"/>
<line x1="932.0" y1="524.2" x2="940.5" y2="524.2" stroke="#1c4772"/>
<line x1="87.5" y1="566.5" x2="96.0" y2="566.5" stroke="#1c4772"/>
<line x1="932.0" y1="566.5" x2="940.5" y2="566.5" stroke="#1c4772"/>
<line x1="87.5" y1="610.4" x2="96.0" y2="610.4" stroke="#1c4772"/>
<line x1="932.0" y1="610.4" x2="940.5" y2="610.4" stroke="#1c4772"/>
</g>
<g font-family='"Liberation Sans", sans-serif' font-size="24.7" fill="#141428" stroke="#fff" stroke-width="0">
<text transform="translate(75.3,276.8) scale(0.9409,1)" x="-34.33" y="0">1.9</text>
<text transform="translate(75.3,319.3) scale(0.9409,1)" x="-34.33" y="0">1.8</text>
<text transform="translate(75.3,361.8) scale(0.9409,1)" x="-34.33" y="0">1.7</text>
<text transform="translate(75.3,404.3) scale(0.9409,1)" x="-34.33" y="0">1.6</text>
<text transform="translate(75.3,446.8) scale(0.9409,1)" x="-34.33" y="0">1.5</text>
<text transform="translate(75.3,489.3) scale(0.9409,1)" x="-34.33" y="0">1.4</text>
<text transform="translate(75.3,531.8) scale(0.9409,1)" x="-34.33" y="0">1.3</text>
<text transform="translate(75.3,574.3) scale(0.9409,1)" x="-34.33" y="0">1.2</text>
<text transform="translate(75.3,616.8) scale(0.9409,1)" x="-34.33" y="0">1.1</text>
<text transform="translate(951.5,276.8) scale(0.9320,1)" x="0.00" y="0">100</text>
<text transform="translate(951.5,319.3) scale(0.9575,1)" x="0.00" y="0">90</text>
<text transform="translate(951.5,361.8) scale(0.9575,1)" x="0.00" y="0">80</text>
<text transform="translate(951.5,404.3) scale(0.9575,1)" x="0.00" y="0">70</text>
<text transform="translate(951.5,446.8) scale(0.9575,1)" x="0.00" y="0">60</text>
<text transform="translate(951.5,489.3) scale(0.9575,1)" x="0.00" y="0">50</text>
<text transform="translate(951.5,531.8) scale(0.9575,1)" x="0.00" y="0">40</text>
<text transform="translate(951.5,574.3) scale(0.9575,1)" x="0.00" y="0">30</text>
<text transform="translate(951.5,616.8) scale(0.9575,1)" x="0.00" y="0">20</text>
<text transform="translate(95.95,626.3) rotate(-90) translate(0,8.5) scale(0.9079,1)" x="-78.20" y="0" stroke-width="0.15">Mar-04</text>
<text transform="translate(136.30,626.3) rotate(-90) translate(0,8.5) scale(0.9079,1)" x="-78.20" y="0" stroke-width="0.15">Mar-05</text>
<text transform="translate(176.35,626.3) rotate(-90) translate(0,8.5) scale(0.9079,1)" x="-78.20" y="0" stroke-width="0.15">Mar-06</text>
<text transform="translate(216.65,626.3) rotate(-90) translate(0,8.5) scale(0.9079,1)" x="-78.20" y="0" stroke-width="0.15">Mar-07</text>
<text transform="translate(254.90,626.3) rotate(-90) translate(0,8.5) scale(0.9079,1)" x="-78.20" y="0" stroke-width="0.15">Mar-08</text>
<text transform="translate(294.95,626.3) rotate(-90) translate(0,8.5) scale(0.9079,1)" x="-78.20" y="0" stroke-width="0.15">Mar-09</text>
<text transform="translate(335.05,626.3) rotate(-90) translate(0,8.5) scale(0.9079,1)" x="-78.20" y="0" stroke-width="0.15">Mar-10</text>
<text transform="translate(375.25,626.3) rotate(-90) translate(0,8.5) scale(0.9296,1)" x="-76.38" y="0" stroke-width="0.15">Mar-11</text>
<text transform="translate(413.50,626.3) rotate(-90) translate(0,8.5) scale(0.9079,1)" x="-78.20" y="0" stroke-width="0.15">Mar-12</text>
<text transform="translate(453.65,626.3) rotate(-90) translate(0,8.5) scale(0.9079,1)" x="-78.20" y="0" stroke-width="0.15">Mar-13</text>
<text transform="translate(494.05,626.3) rotate(-90) translate(0,8.5) scale(0.9079,1)" x="-78.20" y="0" stroke-width="0.15">Mar-14</text>
<text transform="translate(534.35,626.3) rotate(-90) translate(0,8.5) scale(0.9079,1)" x="-78.20" y="0" stroke-width="0.15">Mar-15</text>
<text transform="translate(572.35,626.3) rotate(-90) translate(0,8.5) scale(0.9079,1)" x="-78.20" y="0" stroke-width="0.15">Mar-16</text>
<text transform="translate(612.40,626.3) rotate(-90) translate(0,8.5) scale(0.9079,1)" x="-78.20" y="0" stroke-width="0.15">Mar-17</text>
<text transform="translate(652.80,626.3) rotate(-90) translate(0,8.5) scale(0.9079,1)" x="-78.20" y="0" stroke-width="0.15">Mar-18</text>
<text transform="translate(692.95,626.3) rotate(-90) translate(0,8.5) scale(0.9079,1)" x="-78.20" y="0" stroke-width="0.15">Mar-19</text>
<text transform="translate(731.30,626.3) rotate(-90) translate(0,8.5) scale(0.9079,1)" x="-78.20" y="0" stroke-width="0.15">Mar-20</text>
<text transform="translate(771.25,626.3) rotate(-90) translate(0,8.5) scale(0.9079,1)" x="-78.20" y="0" stroke-width="0.15">Mar-21</text>
<text transform="translate(811.65,626.3) rotate(-90) translate(0,8.5) scale(0.9079,1)" x="-78.20" y="0" stroke-width="0.15">Mar-22</text>
<text transform="translate(851.60,626.3) rotate(-90) translate(0,8.5) scale(0.9079,1)" x="-78.20" y="0" stroke-width="0.15">Mar-23</text>
<text transform="translate(890.10,626.3) rotate(-90) translate(0,8.5) scale(0.9079,1)" x="-78.20" y="0" stroke-width="0.15">Mar-24</text>
<text transform="translate(930.50,626.3) rotate(-90) translate(0,8.5) scale(0.9079,1)" x="-78.20" y="0" stroke-width="0.15">Mar-25</text>
</g>
<g fill="#fff"><rect transform="translate(75.3,276.8) scale(0.9409,1)" x="-33.85" y="-2.45" width="5.64" height="4.15"/><rect transform="translate(75.3,276.8) scale(0.9409,1)" x="-25.85" y="-2.45" width="5.39" height="4.15"/><rect transform="translate(75.3,319.3) scale(0.9409,1)" x="-33.85" y="-2.45" width="5.64" height="4.15"/><rect transform="translate(75.3,319.3) scale(0.9409,1)" x="-25.85" y="-2.45" width="5.39" height="4.15"/><rect transform="translate(75.3,361.8) scale(0.9409,1)" x="-33.85" y="-2.45" width="5.64" height="4.15"/><rect transform="translate(75.3,361.8) scale(0.9409,1)" x="-25.85" y="-2.45" width="5.39" height="4.15"/><rect transform="translate(75.3,404.3) scale(0.9409,1)" x="-33.85" y="-2.45" width="5.64" height="4.15"/><rect transform="translate(75.3,404.3) scale(0.9409,1)" x="-25.85" y="-2.45" width="5.39" height="4.15"/><rect transform="translate(75.3,446.8) scale(0.9409,1)" x="-33.85" y="-2.45" width="5.64" height="4.15"/><rect transform="translate(75.3,446.8) scale(0.9409,1)" x="-25.85" y="-2.45" width="5.39" height="4.15"/><rect transform="translate(75.3,489.3) scale(0.9409,1)" x="-33.85" y="-2.45" width="5.64" height="4.15"/><rect transform="translate(75.3,489.3) scale(0.9409,1)" x="-25.85" y="-2.45" width="5.39" height="4.15"/><rect transform="translate(75.3,531.8) scale(0.9409,1)" x="-33.85" y="-2.45" width="5.64" height="4.15"/><rect transform="translate(75.3,531.8) scale(0.9409,1)" x="-25.85" y="-2.45" width="5.39" height="4.15"/><rect transform="translate(75.3,574.3) scale(0.9409,1)" x="-33.85" y="-2.45" width="5.64" height="4.15"/><rect transform="translate(75.3,574.3) scale(0.9409,1)" x="-25.85" y="-2.45" width="5.39" height="4.15"/><rect transform="translate(75.3,616.8) scale(0.9409,1)" x="-33.85" y="-2.45" width="5.64" height="4.15"/><rect transform="translate(75.3,616.8) scale(0.9409,1)" x="-25.85" y="-2.45" width="5.39" height="4.15"/><rect transform="translate(75.3,616.8) scale(0.9409,1)" x="-13.27" y="-2.45" width="5.64" height="4.15"/><rect transform="translate(75.3,616.8) scale(0.9409,1)" x="-5.27" y="-2.45" width="5.39" height="4.15"/><rect transform="translate(951.5,276.8) scale(0.9320,1)" x="0.48" y="-2.45" width="5.64" height="4.15"/><rect transform="translate(951.5,276.8) scale(0.9320,1)" x="8.48" y="-2.45" width="5.39" height="4.15"/><rect transform="translate(335.05,626.3) rotate(-90) translate(0,8.5) scale(0.9079,1)" x="-26.99" y="-2.45" width="5.64" height="4.15"/><rect transform="translate(335.05,626.3) rotate(-90) translate(0,8.5) scale(0.9079,1)" x="-18.99" y="-2.45" width="5.39" height="4.15"/><rect transform="translate(375.25,626.3) rotate(-90) translate(0,8.5) scale(0.9296,1)" x="-25.16" y="-2.45" width="5.64" height="4.15"/><rect transform="translate(375.25,626.3) rotate(-90) translate(0,8.5) scale(0.9296,1)" x="-17.16" y="-2.45" width="5.39" height="4.15"/><rect transform="translate(375.25,626.3) rotate(-90) translate(0,8.5) scale(0.9296,1)" x="-13.27" y="-2.45" width="5.64" height="4.15"/><rect transform="translate(375.25,626.3) rotate(-90) translate(0,8.5) scale(0.9296,1)" x="-5.27" y="-2.45" width="5.39" height="4.15"/><rect transform="translate(413.50,626.3) rotate(-90) translate(0,8.5) scale(0.9079,1)" x="-26.99" y="-2.45" width="5.64" height="4.15"/><rect transform="translate(413.50,626.3) rotate(-90) translate(0,8.5) scale(0.9079,1)" x="-18.99" y="-2.45" width="5.39" height="4.15"/><rect transform="translate(453.65,626.3) rotate(-90) translate(0,8.5) scale(0.9079,1)" x="-26.99" y="-2.45" width="5.64" height="4.15"/><rect transform="translate(453.65,626.3) rotate(-90) translate(0,8.5) scale(0.9079,1)" x="-18.99" y="-2.45" width="5.39" height="4.15"/><rect transform="translate(494.05,626.3) rotate(-90) translate(0,8.5) scale(0.9079,1)" x="-26.99" y="-2.45" width="5.64" height="4.15"/><rect transform="translate(494.05,626.3) rotate(-90) translate(0,8.5) scale(0.9079,1)" x="-18.99" y="-2.45" width="5.39" height="4.15"/><rect transform="translate(534.35,626.3) rotate(-90) translate(0,8.5) scale(0.9079,1)" x="-26.99" y="-2.45" width="5.64" height="4.15"/><rect transform="translate(534.35,626.3) rotate(-90) translate(0,8.5) scale(0.9079,1)" x="-18.99" y="-2.45" width="5.39" height="4.15"/><rect transform="translate(572.35,626.3) rotate(-90) translate(0,8.5) scale(0.9079,1)" x="-26.99" y="-2.45" width="5.64" height="4.15"/><rect transform="translate(572.35,626.3) rotate(-90) translate(0,8.5) scale(0.9079,1)" x="-18.99" y="-2.45" width="5.39" height="4.15"/><rect transform="translate(612.40,626.3) rotate(-90) translate(0,8.5) scale(0.9079,1)" x="-26.99" y="-2.45" width="5.64" height="4.15"/><rect transform="translate(612.40,626.3) rotate(-90) translate(0,8.5) scale(0.9079,1)" x="-18.99" y="-2.45" width="5.39" height="4.15"/><rect transform="translate(652.80,626.3) rotate(-90) translate(0,8.5) scale(0.9079,1)" x="-26.99" y="-2.45" width="5.64" height="4.15"/><rect transform="translate(652.80,626.3) rotate(-90) translate(0,8.5) scale(0.9079,1)" x="-18.99" y="-2.45" width="5.39" height="4.15"/><rect transform="translate(692.95,626.3) rotate(-90) translate(0,8.5) scale(0.9079,1)" x="-26.99" y="-2.45" width="5.64" height="4.15"/><rect transform="translate(692.95,626.3) rotate(-90) translate(0,8.5) scale(0.9079,1)" x="-18.99" y="-2.45" width="5.39" height="4.15"/><rect transform="translate(771.25,626.3) rotate(-90) translate(0,8.5) scale(0.9079,1)" x="-13.27" y="-2.45" width="5.64" height="4.15"/><rect transform="translate(771.25,626.3) rotate(-90) translate(0,8.5) scale(0.9079,1)" x="-5.27" y="-2.45" width="5.39" height="4.15"/></g>
<g stroke-width="3">
<line x1="294.5" y1="733.6" x2="347.4" y2="733.6" stroke="#aad0ee"/>
<line x1="294.5" y1="774" x2="347.4" y2="774" stroke="#06325f"/>
<line x1="294.5" y1="814" x2="347.4" y2="814" stroke="#a3a3a3"/>
</g>
<g font-family='"Liberation Sans", sans-serif' font-weight="normal" font-size="22.9" fill="#141428" stroke="#fff" stroke-width="0.15" vector-effect="non-scaling-stroke">
<text transform="scale(1.0000,1.0600)" x="352.02" y="699.25" letter-spacing="0.072">Wholesalers</text>
<text transform="scale(1.0000,1.0600)" x="482.31" y="699.25" letter-spacing="0.187">Inventories/Sales</text>
<text transform="scale(1.0000,1.0600)" x="668.00" y="699.25" letter-spacing="-0.223">(LHA)</text>
</g>
<g font-family='"Liberation Sans", sans-serif' font-weight="normal" font-size="22.9" fill="#141428" stroke="#fff" stroke-width="0.15" vector-effect="non-scaling-stroke">
<text transform="scale(1.0000,1.0600)" x="350.65" y="737.08" letter-spacing="0.000">M</text>
<text transform="scale(1.0000,1.0600)" x="371.45" y="737.08" letter-spacing="-0.009">anufacturers</text>
<text transform="scale(1.0000,1.0600)" x="503.71" y="737.08" letter-spacing="0.100">Inventories/Sales</text>
<text transform="scale(1.0000,1.0600)" x="686.10" y="737.08" letter-spacing="0.402">(LHA)</text>
</g>
<g font-family='"Liberation Sans", sans-serif' font-weight="normal" font-size="22.9" fill="#141428" stroke="#fff" stroke-width="0.15" vector-effect="non-scaling-stroke">
<text transform="scale(1.0000,1.0600)" x="350.41" y="774.91" letter-spacing="-0.431">ISM</text>
<text transform="scale(1.0000,1.0600)" x="398.39" y="774.91" letter-spacing="0.161">inventories</text>
<text transform="scale(1.0000,1.0600)" x="514.69" y="774.91" letter-spacing="0.098">index</text>
<text transform="scale(1.0000,1.0600)" x="576.10" y="774.91" letter-spacing="0.528">(RHA)</text>
</g>
</svg>
</body></html>
